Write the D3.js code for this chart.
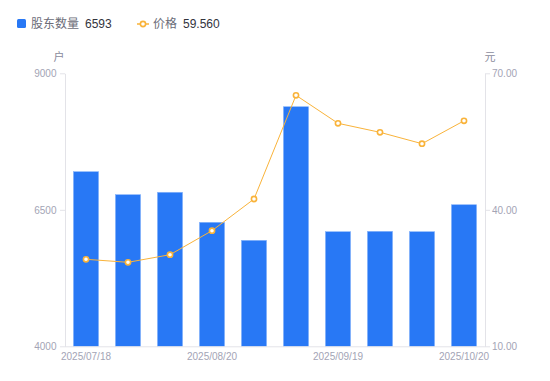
<!DOCTYPE html>
<html><head><meta charset="utf-8">
<script src="https://cdn.jsdelivr.net/npm/d3@7/dist/d3.min.js"></script>
<style>
body{margin:0;background:#fff;}
svg{display:block;font-family:"Noto Sans CJK SC","Noto Sans",sans-serif;}
</style></head>
<body><svg id="c" width="550" height="381"></svg>
<script>
const dates = ["2025/07/18","2025/07/31","2025/08/10","2025/08/20","2025/08/31","2025/09/10","2025/09/19","2025/09/30","2025/10/10","2025/10/20"];
const holders = [7198,6777,6821,6271,5941,8388,6099,6106,6099,6593];
const prices = [29.12,28.46,30.13,35.41,42.37,65.16,59.01,57.03,54.53,59.56];
const leftTicks = [4000,6500,9000];
const rightTicks = [10,40,70];
const shownDates = ["2025/07/18","2025/08/20","2025/09/19","2025/10/20"];

const svg = d3.select("#c");
const L=65, R=485, T=73.3, B=346.3;
const tickColor="#a3a4b5", axisColor="#e3e3e8";
const blue="#2878f5", orange="#f9b33a";

const x = d3.scaleBand().domain(dates).range([L,R]).paddingInner(0.4).paddingOuter(0.2);
const yL = d3.scaleLinear().domain([4000,9000]).range([B,T]);
const yR = d3.scaleLinear().domain([10,70]).range([B,T]);

// bars
svg.append("g").selectAll("rect").data(holders).join("rect")
  .attr("x",(d,i)=>x(dates[i])).attr("width",x.bandwidth())
  .attr("y",d=>yL(d)).attr("height",d=>B-yL(d))
  .attr("fill",blue).attr("stroke","#8ab6fa").attr("stroke-width",0.6);

// axes
function style(g){
  g.selectAll(".domain").attr("stroke",axisColor);
  g.selectAll(".tick line").attr("stroke",axisColor);
  g.selectAll("text").attr("fill",tickColor).attr("font-size",10).attr("font-family","'Liberation Sans',Arial,sans-serif");
}
const gl = svg.append("g").attr("transform",`translate(${L},0)`)
  .call(d3.axisLeft(yL).tickValues(leftTicks).tickSize(5).tickSizeOuter(0).tickPadding(3.5).tickFormat(d3.format("d")));
style(gl);
const gr = svg.append("g").attr("transform",`translate(${R},0)`)
  .call(d3.axisRight(yR).tickValues(rightTicks).tickSize(5).tickSizeOuter(0).tickPadding(2).tickFormat(d3.format(".2f")));
style(gr);
const gb = svg.append("g").attr("transform",`translate(0,${B})`)
  .call(d3.axisBottom(x).tickValues(shownDates).tickSize(0).tickSizeOuter(0).tickPadding(7));
style(gb);
gb.select(".domain").attr("d",`M${L},0.5H${R}`);

// units
svg.append("text").attr("x",59).attr("y",61).attr("text-anchor","middle").attr("fill","#8a8b9c").attr("font-size",11).text("户");
svg.append("text").attr("x",490).attr("y",61).attr("text-anchor","middle").attr("fill","#8a8b9c").attr("font-size",11).text("元");

// line
const cx = (i)=>x(dates[i])+x.bandwidth()/2;
svg.append("path").datum(prices)
  .attr("d",d3.line().x((d,i)=>cx(i)).y(d=>yR(d)))
  .attr("fill","none").attr("stroke",orange).attr("stroke-width",1);
svg.append("g").selectAll("circle").data(prices).join("circle")
  .attr("cx",(d,i)=>cx(i)).attr("cy",d=>yR(d)).attr("r",2.6)
  .attr("fill","#fff").attr("stroke",orange).attr("stroke-width",1.6);

// legend
const lg = svg.append("g");
lg.append("rect").attr("x",17).attr("y",19).attr("width",9).attr("height",9).attr("rx",1.5).attr("fill",blue);
lg.append("text").attr("x",31).attr("y",28).attr("font-size",12).attr("fill","#6b6c78").text("股东数量");
lg.append("text").attr("x",85).attr("y",28).attr("font-size",12).attr("fill","#33343d").attr("font-family","'Liberation Sans',Arial,sans-serif").text(d3.format("d")(holders[holders.length-1]));
lg.append("line").attr("x1",137).attr("x2",149).attr("y1",24).attr("y2",24).attr("stroke",orange).attr("stroke-width",1.5);
lg.append("circle").attr("cx",143).attr("cy",24).attr("r",2.6).attr("fill","#fff").attr("stroke",orange).attr("stroke-width",1.6);
lg.append("text").attr("x",153).attr("y",28).attr("font-size",12).attr("fill","#6b6c78").text("价格");
lg.append("text").attr("x",183).attr("y",28).attr("font-size",12).attr("fill","#33343d").attr("font-family","'Liberation Sans',Arial,sans-serif").text(d3.format(".3f")(prices[prices.length-1]));
</script></body></html>
